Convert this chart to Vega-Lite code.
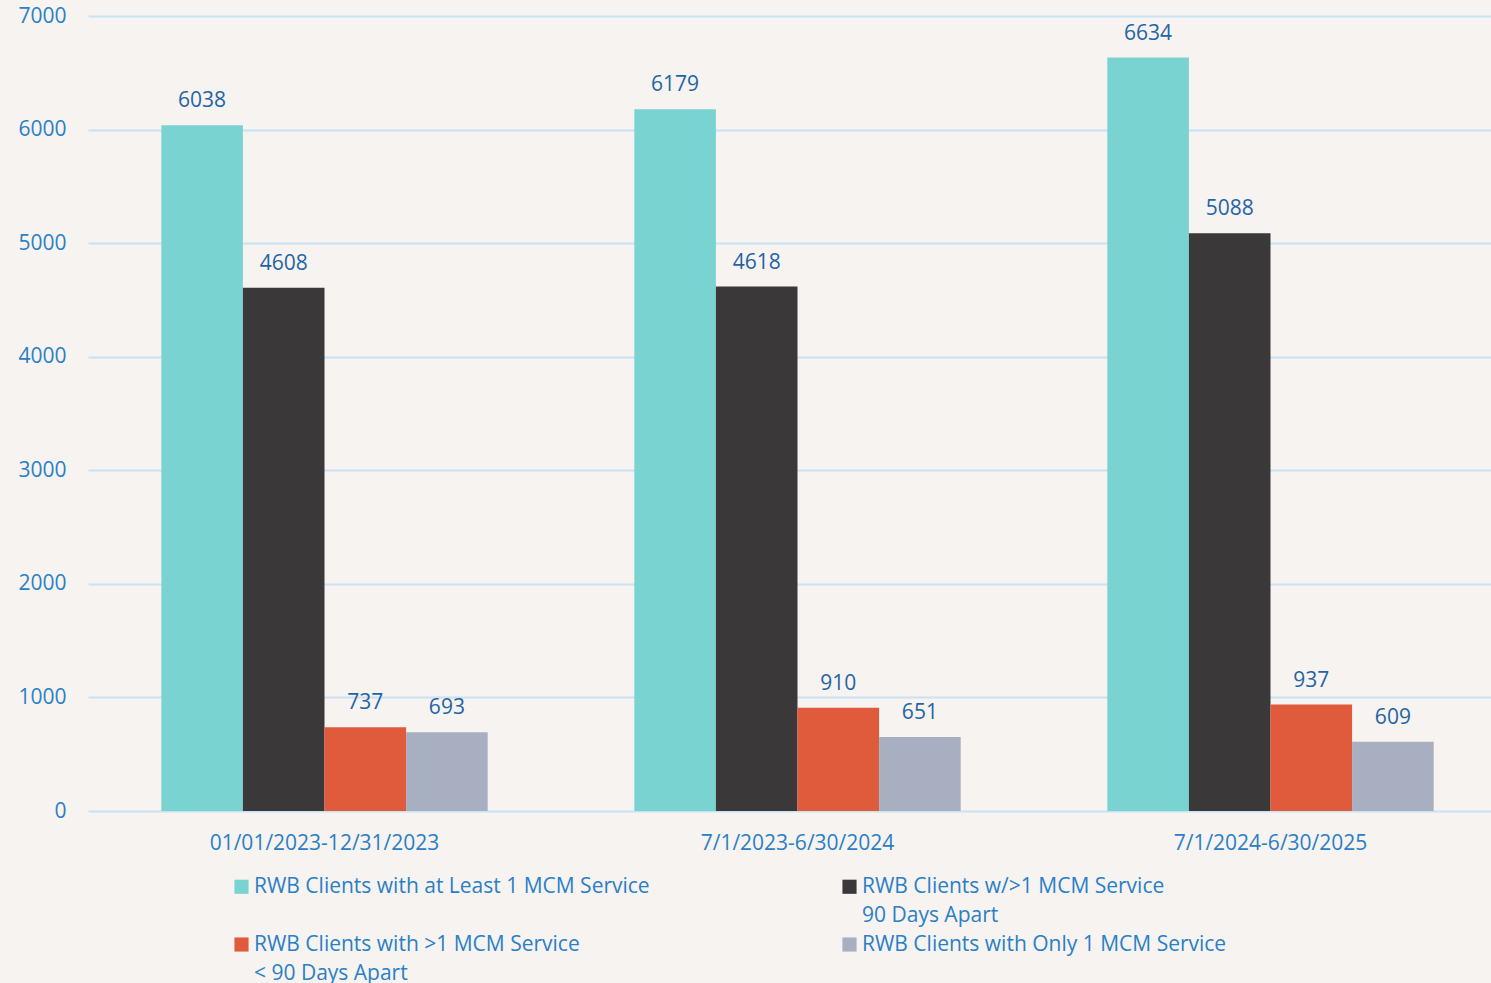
{
  "$schema": "https://vega.github.io/schema/vega-lite/v6.json",
  "autosize": "none",
  "width": 1419,
  "height": 795,
  "padding": {"left": 88, "top": 16, "right": 0, "bottom": 172},
  "background": "#F7F3F0",
  "config": {
    "view": {"stroke": null},
    "font": "Open Sans",
    "style": {"guide-label": {"lineHeight": 29}}
  },
  "data": {
    "values": [
      {"period": "01/01/2023-12/31/2023", "series": "RWB Clients with at Least 1 MCM Service", "value": 6038},
      {"period": "01/01/2023-12/31/2023", "series": "RWB Clients w/>1 MCM Service 90 Days Apart", "value": 4608},
      {"period": "01/01/2023-12/31/2023", "series": "RWB Clients with >1 MCM Service < 90 Days Apart", "value": 737},
      {"period": "01/01/2023-12/31/2023", "series": "RWB Clients with Only 1 MCM Service", "value": 693},
      {"period": "7/1/2023-6/30/2024", "series": "RWB Clients with at Least 1 MCM Service", "value": 6179},
      {"period": "7/1/2023-6/30/2024", "series": "RWB Clients w/>1 MCM Service 90 Days Apart", "value": 4618},
      {"period": "7/1/2023-6/30/2024", "series": "RWB Clients with >1 MCM Service < 90 Days Apart", "value": 910},
      {"period": "7/1/2023-6/30/2024", "series": "RWB Clients with Only 1 MCM Service", "value": 651},
      {"period": "7/1/2024-6/30/2025", "series": "RWB Clients with at Least 1 MCM Service", "value": 6634},
      {"period": "7/1/2024-6/30/2025", "series": "RWB Clients w/>1 MCM Service 90 Days Apart", "value": 5088},
      {"period": "7/1/2024-6/30/2025", "series": "RWB Clients with >1 MCM Service < 90 Days Apart", "value": 937},
      {"period": "7/1/2024-6/30/2025", "series": "RWB Clients with Only 1 MCM Service", "value": 609}
    ]
  },
  "encoding": {
    "x": {
      "field": "period", "type": "nominal", "sort": null,
      "scale": {"paddingInner": 0.31, "paddingOuter": 0.155},
      "axis": {
        "title": null, "labelAngle": 0, "domain": false, "ticks": false, "labelLimit": 500,
        "labelFontSize": 21, "labelColor": "#2A80C6", "labelPadding": 21, "labelFont": "Open Sans"
      }
    },
    "xOffset": {
      "field": "series", "type": "nominal", "sort": null,
      "scale": {"paddingInner": 0, "paddingOuter": 0}
    },
    "y": {
      "field": "value", "type": "quantitative",
      "scale": {"domain": [0, 7000], "nice": false},
      "axis": {
        "title": null, "values": [0, 1000, 2000, 3000, 4000, 5000, 6000, 7000], "format": "d",
        "labelOverlap": false, "labelFlush": false,
        "domain": false, "ticks": false, "grid": true, "gridColor": "#C9E2F3", "gridWidth": 2,
        "labelFontSize": 21, "labelColor": "#2A80C6", "labelPadding": 22, "labelFont": "Open Sans"
      }
    }
  },
  "layer": [
    {
      "mark": {"type": "bar"},
      "encoding": {
        "color": {
          "field": "series", "type": "nominal", "sort": null,
          "scale": {
            "domain": [
              "RWB Clients with at Least 1 MCM Service",
              "RWB Clients w/>1 MCM Service 90 Days Apart",
              "RWB Clients with >1 MCM Service < 90 Days Apart",
              "RWB Clients with Only 1 MCM Service"
            ],
            "range": ["#79D3D1", "#3A3839", "#E05A3C", "#A7AFC0"]
          },
          "legend": {
            "title": null, "orient": "none", "legendX": 143, "legendY": 860, "direction": "horizontal",
            "columns": 2, "columnPadding": 189, "rowPadding": 7,
            "symbolType": "square", "symbolSize": 200, "symbolStrokeWidth": 0,
            "labelFontSize": 21, "labelColor": "#2A80C6", "labelFont": "Open Sans", "labelOffset": 2,
            "labelLimit": 600,
            "labelExpr": "datum.label == 'RWB Clients w/>1 MCM Service 90 Days Apart' ? ['RWB Clients w/>1 MCM Service', '90 Days Apart'] : datum.label == 'RWB Clients with >1 MCM Service < 90 Days Apart' ? ['RWB Clients with >1 MCM Service', '< 90 Days Apart'] : [datum.label, '']"
          }
        }
      }
    },
    {
      "mark": {"type": "text", "baseline": "bottom", "dy": -14, "fontSize": 21, "color": "#1F65A6", "font": "Open Sans"},
      "encoding": {
        "text": {"field": "value", "type": "quantitative", "format": "d"}
      }
    }
  ]
}
